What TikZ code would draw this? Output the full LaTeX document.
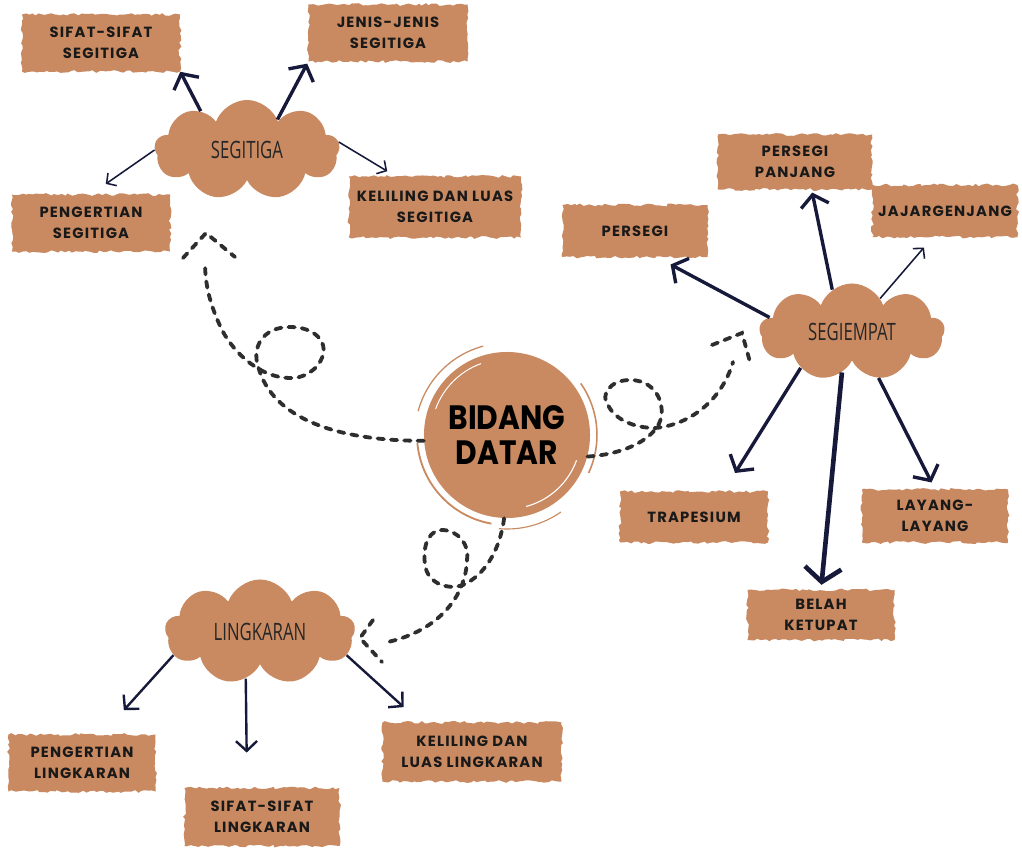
\documentclass[tikz,border=0pt]{standalone}
\usepackage{fontspec}
\newfontfamily\boxfont{Poppins}[LetterSpace=8]
\newfontfamily\cloudfont{Open Sans}[FakeStretch=0.7]
\newfontfamily\titlefont{Poppins}[FakeStretch=0.88]
\usepackage{tikz}
\usetikzlibrary{arrows.meta,shapes.symbols,decorations.pathmorphing,calc}
\definecolor{BrushTan}{HTML}{C98A62}
\definecolor{InkNavy}{HTML}{16193A}
\definecolor{DashGray}{HTML}{2E2E2E}

\begin{document}
\begin{tikzpicture}[x=0.025cm, y=-0.025cm, every node/.style={inner sep=0pt}]
\tikzstyle{brush}=[fill=BrushTan, decorate, decoration={random steps, segment length=2.5pt, amplitude=1pt}, align=center, font=\boxfont\bfseries\fontsize{10.5}{15}\selectfont, text=black!90]
\tikzstyle{cloudy}=[cloud, cloud puffs=9, cloud puff arc=140, cloud ignores aspect, fill=BrushTan, font=\cloudfont\fontsize{17}{17}\selectfont, text=black!85]
\tikzstyle{thin arrow}=[draw=InkNavy, line width=1.1pt, -{Straight Barb[length=5pt, width=11pt]}]
\tikzstyle{mid arrow}=[draw=InkNavy, line width=1.7pt, -{Straight Barb[length=7pt, width=15pt]}]
\tikzstyle{thick arrow}=[draw=InkNavy, line width=2.4pt, -{Straight Barb[length=8pt, width=20pt]}]
\tikzstyle{heavy arrow}=[draw=InkNavy, line width=3.3pt, -{Straight Barb[length=10pt, width=26pt]}]
\tikzstyle{loopy}=[draw=DashGray, line width=2.7pt, line cap=round, dash pattern=on 4.5pt off 5pt]
\fill[white] (0,0) rectangle (1022,848);
\useasboundingbox (0,0) rectangle (1022,848);

% centre
\node[circle, fill=BrushTan, minimum size=4.15cm, align=center, font=\titlefont\bfseries\fontsize{24}{25}\selectfont, text=black] (bidang) at (507,435) {BIDANG\\DATAR};
\draw[BrushTan, line width=1.3pt] ($(bidang)+(100:90)$) arc[start angle=100, end angle=175, radius=90];
\draw[BrushTan, line width=0.9pt] ($(bidang)+(195:92)$) arc[start angle=195, end angle=255, radius=92];
\draw[BrushTan, line width=1.1pt] ($(bidang)+(-35:90)$) arc[start angle=-35, end angle=25, radius=90];
\draw[BrushTan, line width=0.8pt] ($(bidang)+(55:94)$) arc[start angle=55, end angle=95, radius=94];
\draw[white, line width=0.8pt] ($(bidang)+(20:74)$) arc[start angle=20, end angle=75, radius=74];
\draw[white, line width=0.7pt] ($(bidang)+(200:76)$) arc[start angle=200, end angle=250, radius=76];

% segitiga
\node[cloudy, minimum width=4.625cm, minimum height=2.5cm] (segitiga) at (247,150) {SEGITIGA};
\node[brush, minimum width=3.95cm, minimum height=1.425cm] (sifatsgt) at (101,43) {SIFAT-SIFAT\\SEGITIGA};
\node[brush, minimum width=3.975cm, minimum height=1.425cm] (jenissgt) at (388,33) {JENIS-JENIS\\SEGITIGA};
\node[brush, minimum width=3.95cm, minimum height=1.425cm] (pengsgt) at (91,223) {PENGERTIAN\\SEGITIGA};
\node[brush, minimum width=4.3cm, minimum height=1.525cm] (kelsgt) at (435,207) {KELILING DAN LUAS\\SEGITIGA};

% segiempat
\node[cloudy, minimum width=4.625cm, minimum height=2.425cm] (segiempat) at (852,332) {SEGIEMPAT};
\node[brush, minimum width=3.85cm, minimum height=1.375cm] (persegipj) at (795,162) {PERSEGI\\PANJANG};
\node[brush, minimum width=3.625cm, minimum height=1.3cm] (persegi) at (635,231) {PERSEGI};
\node[brush, minimum width=3.625cm, minimum height=1.3cm] (jajar) at (945,211) {JAJARGENJANG};
\node[brush, minimum width=3.7cm, minimum height=1.275cm] (trapesium) at (694,517) {TRAPESIUM};
\node[brush, minimum width=3.65cm, minimum height=1.325cm] (layang) at (935,516) {LAYANG-\\LAYANG};
\node[brush, minimum width=3.675cm, minimum height=1.25cm] (belah) at (821,615) {BELAH\\KETUPAT};

% lingkaran
\node[cloudy, minimum width=4.75cm, minimum height=2.625cm] (lingkaran) at (260,632) {LINGKARAN};
\node[brush, minimum width=3.675cm, minimum height=1.425cm] (penglkr) at (82,763) {PENGERTIAN\\LINGKARAN};
\node[brush, minimum width=3.875cm, minimum height=1.45cm] (sifatlkr) at (262,817) {SIFAT-SIFAT\\LINGKARAN};
\node[brush, minimum width=4.475cm, minimum height=1.475cm] (kellkr) at (472,752) {KELILING DAN\\LUAS LINGKARAN};

% dashed paths from the centre
\coordinate (endsgt) at (205,262);
\coordinate (endsqr) at (733,362);
\coordinate (endlkr) at (388,642);
\draw[loopy] (bidang.184) .. controls (340,441) and (272,420) .. (258,366)
  .. controls (252,348) and (262,327) .. (290,327)
  .. controls (315,327) and (327,342) .. (323,355)
  .. controls (318,372) and (300,379) .. (290,378)
  .. controls (262,378) and (235,355) .. (222,330)
  .. controls (210,305) and (205,285) .. (endsgt);
\draw[loopy] ($(endsgt)+(-22,-4)$) -- ($(endsgt)+(1,-29)$) -- ($(endsgt)+(30,-5)$);
\draw[loopy] (bidang.-15) .. controls (615,455) and (645,445) .. (657,427)
  .. controls (668,412) and (660,380) .. (630,380)
  .. controls (610,380) and (600,395) .. (608,405)
  .. controls (615,420) and (635,428) .. (655,428)
  .. controls (690,425) and (722,400) .. (endsqr);
\draw[loopy] ($(endsqr)+(-21,-17)$) -- ($(endsqr)+(9,-29)$) -- ($(endsqr)+(17,0)$);
\draw[loopy] (bidang.-92) .. controls (500,550) and (485,575) .. (463,585)
  .. controls (450,590) and (428,585) .. (425,565)
  .. controls (422,540) and (432,530) .. (442,530)
  .. controls (458,530) and (470,545) .. (467,560)
  .. controls (466,595) and (440,630) .. (endlkr);
\draw[loopy] ($(endlkr)+(-15,-22)$) -- ($(endlkr)+(-28,-4)$) -- ($(endlkr)+(-6,20)$);

% arrows
\draw[thick arrow] (segitiga.140) -- (sifatsgt.south east);
\draw[thick arrow, shorten >=1.5pt] (segitiga.45) -- (jenissgt.south west);
\draw[thin arrow, shorten >=12.8pt] (segitiga.180) -- (pengsgt.north);
\draw[thin arrow, shorten >=6.9pt] (segitiga.5) -- (kelsgt.142);
\draw[thick arrow, shorten >=10.9pt] (segiempat.170) -- (persegi.-50);
\draw[thick arrow, shorten >=2pt] (segiempat.115) -- (persegipj.-59);
\draw[thin arrow, shorten >=9.6pt] (segiempat.50) -- (jajar.-115);
\draw[thick arrow, shorten >=15.3pt] (segiempat.215) -- (trapesium.41);
\draw[heavy arrow, shorten >=3.5pt] (segiempat.256) -- (belah.north);
\draw[thick arrow, shorten >=5.4pt] (segiempat.300) -- (layang.north);
\draw[mid arrow, shorten >=23pt] (lingkaran.195) -- (penglkr.55);
\draw[mid arrow, shorten >=25pt] (lingkaran.253) -- (sifatlkr.117);
\draw[mid arrow, shorten >=16pt] (lingkaran.-15) -- (kellkr.150);
\end{tikzpicture}
\end{document}
